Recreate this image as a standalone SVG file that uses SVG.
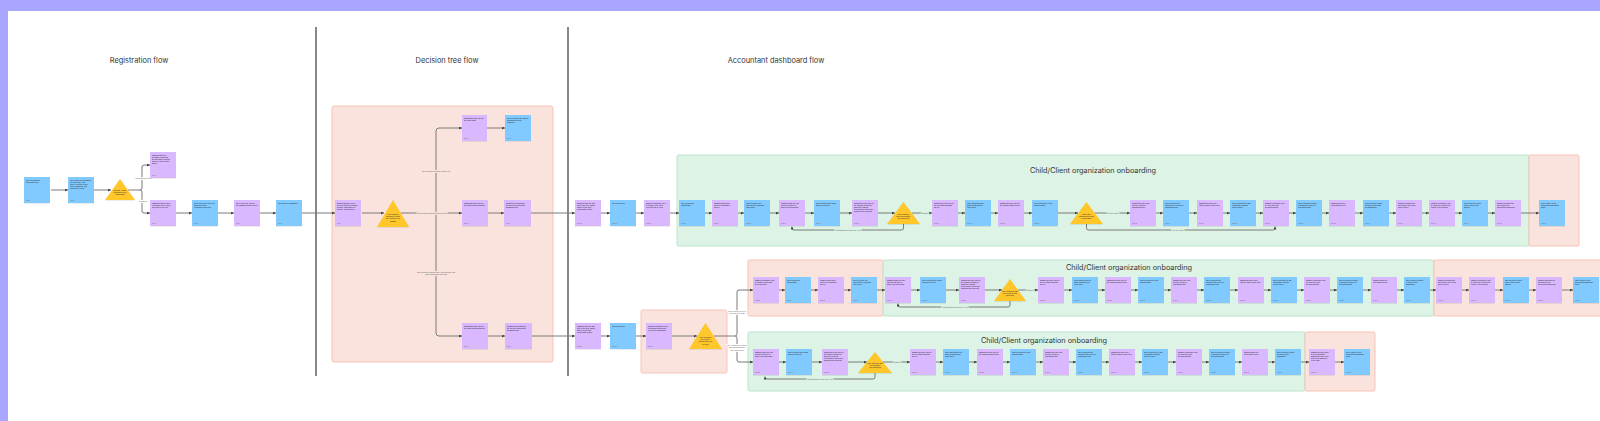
<svg xmlns="http://www.w3.org/2000/svg" width="1600" height="421" viewBox="0 0 1600 421">
<defs>
<style>
.bg{fill:#ffffff}
.frame{fill:#A9A6FF}
.title{font-family:Inter,"Liberation Sans",sans-serif;font-size:7.4px;fill:#333;text-anchor:middle}
.b{fill:#80CAFF}
.p{fill:#D9B8FF}
.t{fill:#FFC72C}
.s{font-family:"Liberation Sans",Arial,sans-serif;font-size:1.8px;fill:#2a2a2a}
.st{font-family:"Liberation Sans",Arial,sans-serif;font-size:1.8px;fill:#2a2a2a;text-anchor:middle}
.f{font-family:"Liberation Sans",Arial,sans-serif;font-size:1.5px;fill:#6d6d6d}
.pink{fill:#FBE3DD;stroke:#F6C3B5;stroke-width:1}
.green{fill:#DCF3E5;stroke:#BDE4CB;stroke-width:1}
.div{stroke:#555;stroke-width:1.4;fill:none}
.c{stroke:#7a7a7a;stroke-width:1;fill:none;marker-end:url(#ah)}
.lbl{font-family:"Liberation Sans",Arial,sans-serif;font-size:1.8px;fill:#555;text-anchor:middle;paint-order:stroke;stroke-width:1.6px}
.lw{stroke:#ffffff}.lp{stroke:#FBE3DD}.lg{stroke:#DCF3E5}
</style>
<marker id="ah" viewBox="0 0 6 6" refX="6" refY="3" markerWidth="3" markerHeight="3" markerUnits="userSpaceOnUse" orient="auto"><path d="M0,0 L6,3 L0,6 z" fill="#444"/></marker>
<filter id="sh" x="-10%" y="-10%" width="130%" height="130%"><feDropShadow dx="0" dy="0.5" stdDeviation="0.4" flood-color="#000" flood-opacity="0.15"/></filter>
</defs>
<rect class="bg" x="0" y="0" width="1600" height="421"/>
<rect class="frame" x="0" y="0" width="1600" height="11"/>
<rect class="frame" x="0" y="0" width="8" height="421"/>

<g id="titles">
<text class="title" x="139" y="63">Registration flow</text>
<text class="title" x="447" y="63">Decision tree flow</text>
<text class="title" x="776" y="63">Accountant dashboard flow</text>
</g>
<g id="dividers">
<path class="div" d="M316,27 V376"/>
<path class="div" d="M568,27 V376"/>
</g>

<g id="regions">
<rect id="decision-area" class="pink" x="332" y="106" width="221" height="256" rx="2"/>
<rect id="row1-green" class="green" x="677" y="155" width="852" height="91" rx="1.5"/>
<rect id="row1-pink" class="pink" x="1529" y="155" width="50" height="91" rx="1.5"/>
<rect id="row2-pink-a" class="pink" x="641" y="310" width="86" height="63" rx="1.5"/>
<rect id="row2u-pink" class="pink" x="748" y="260" width="135" height="56" rx="1.5"/>
<rect id="row2u-green" class="green" x="883" y="260" width="551" height="56" rx="1.5"/>
<rect id="row2u-pink-b" class="pink" x="1434" y="260" width="170" height="56" rx="1.5"/>
<rect id="row2l-green" class="green" x="748" y="332" width="557" height="59" rx="1.5"/>
<rect id="row2l-pink" class="pink" x="1305" y="332" width="70" height="59" rx="1.5"/>
<text class="title" x="1093" y="173" style="font-size:7.3px">Child/Client organization onboarding</text>
<text class="title" x="1129" y="270" style="font-size:7.3px">Child/Client organization onboarding</text>
<text class="title" x="1044" y="343" style="font-size:7.3px">Child/Client organization onboarding</text>
</g>

<g id="connectors">
<path class="c" d="M51,190 H68"/>
<path class="c" d="M94,190 H111"/>
<path class="c" d="M128,190 H140 Q142,190 142,188 V167 Q142,165 144,165 H150"/>
<path class="c" d="M140,190 Q142,190 142,192 V211 Q142,213 144,213 H150"/>
<path class="c" d="M176,213 H192"/>
<path class="c" d="M218,213 H234"/>
<path class="c" d="M260,213 H276"/>
<path class="c" d="M302,213 H335"/>
<path class="c" d="M362,213 H384"/>
<path class="c" d="M401,213 H462"/>
<path class="c" d="M436,213 V131 Q436,128 439,128 H462"/>
<path class="c" d="M436,213 V333 Q436,336 439,336 H462"/>
<path class="c" d="M487,128 H505"/>
<path class="c" d="M488,213 H504"/>
<path class="c" d="M488,336 H505"/>
<path class="c" d="M531,213 H575"/>
<path class="c" d="M532,336 H575"/>
<path class="c" d="M601,213 H610"/><path class="c" d="M636,213 H644"/><path class="c" d="M670,213 H679"/><path class="c" d="M705,213 H712"/><path class="c" d="M738,213 H744"/><path class="c" d="M770,213 H779"/><path class="c" d="M805,213 H814"/><path class="c" d="M840,213 H852"/><path class="c" d="M878,213 H895"/><path class="c" d="M912,213 H932"/><path class="c" d="M958,213 H965"/><path class="c" d="M991,213 H998"/><path class="c" d="M1024,213 H1032"/><path class="c" d="M1058,213 H1078"/><path class="c" d="M1095,213 H1130"/><path class="c" d="M1156,213 H1163"/><path class="c" d="M1189,213 H1197"/><path class="c" d="M1223,213 H1230"/><path class="c" d="M1256,213 H1263"/><path class="c" d="M1289,213 H1296"/><path class="c" d="M1322,213 H1329"/><path class="c" d="M1355,213 H1363"/><path class="c" d="M1389,213 H1396"/><path class="c" d="M1422,213 H1429"/><path class="c" d="M1455,213 H1462"/><path class="c" d="M1488,213 H1495"/><path class="c" d="M1521,213 H1539"/>
<path class="c" d="M903.5,224 V228 Q903.5,230 901.5,230 H794 Q792,230 792,228 V226.5"/>
<path class="c" d="M1086.5,224 V228 Q1086.5,230 1088.5,230 H1273 Q1275,230 1275,228 V226.5"/>
<path class="c" d="M601,336 H610"/><path class="c" d="M636,336 H646"/><path class="c" d="M672,336 H697"/>
<path class="c" d="M714,336 H735 Q737,336 737,334 V292 Q737,290 739,290 H753"/>
<path class="c" d="M735,336 Q737,336 737,338 V360 Q737,362 739,362 H753"/>
<path class="c" d="M779,290 H785"/><path class="c" d="M811,290 H818"/><path class="c" d="M844,290 H851"/><path class="c" d="M877,290 H885"/><path class="c" d="M911,290 H920"/><path class="c" d="M946,290 H959"/><path class="c" d="M985,290 H1002"/><path class="c" d="M1018,290 H1038"/><path class="c" d="M1064,290 H1072"/><path class="c" d="M1098,290 H1105"/><path class="c" d="M1131,290 H1138"/><path class="c" d="M1164,290 H1171"/><path class="c" d="M1197,290 H1204"/><path class="c" d="M1230,290 H1238"/><path class="c" d="M1264,290 H1271"/><path class="c" d="M1297,290 H1304"/><path class="c" d="M1330,290 H1337"/><path class="c" d="M1363,290 H1371"/><path class="c" d="M1397,290 H1404"/><path class="c" d="M1430,290 H1436"/><path class="c" d="M1462,290 H1469"/><path class="c" d="M1495,290 H1503"/><path class="c" d="M1529,290 H1536"/><path class="c" d="M1562,290 H1573"/>
<path class="c" d="M1010,301 V305 Q1010,307 1008,307 H900 Q898,307 898,305 V303.5"/>
<path class="c" d="M779,362 H786"/><path class="c" d="M812,362 H822"/><path class="c" d="M848,362 H867"/><path class="c" d="M883,362 H910"/><path class="c" d="M936,362 H943"/><path class="c" d="M969,362 H977"/><path class="c" d="M1003,362 H1010"/><path class="c" d="M1036,362 H1043"/><path class="c" d="M1069,362 H1076"/><path class="c" d="M1102,362 H1109"/><path class="c" d="M1135,362 H1142"/><path class="c" d="M1168,362 H1176"/><path class="c" d="M1202,362 H1209"/><path class="c" d="M1235,362 H1242"/><path class="c" d="M1268,362 H1275"/><path class="c" d="M1301,362 H1309"/><path class="c" d="M1335,362 H1344"/>
<path class="c" d="M875,373 V377 Q875,379 873,379 H767 Q765,379 765,377 V376.5"/>
<text class="lbl lw" x="143" y="178.5">Has accounting firm</text>
<text class="lbl lw" x="143" y="201.5">Registered</text>
<text class="lbl lp" x="436" y="171.5">User selects to manage a single org</text>
<text class="lbl lp" x="432" y="213.6">User selects to manage multiple orgs</text>
<text class="lbl lp" x="436" y="273"><tspan x="436">User selects to manage their own business AND</tspan><tspan x="436" dy="2.3">other businesses' accounts</tspan></text>
<text class="lbl lg" x="925" y="213.6">Continue</text>
<text class="lbl lg" x="848" y="230.6">Has accounts to bring over (yes)</text>
<text class="lbl lg" x="1113" y="213.6">No (they have)</text>
<text class="lbl lg" x="1178" y="230.6">Yes, they have</text>
<text class="lbl lw" x="737" y="312"><tspan x="737">User clicks on a client</tspan><tspan x="737" dy="2.3">from the list of orgs</tspan></text>
<text class="lbl lw" x="737" y="346"><tspan x="737">User decides to continue</tspan><tspan x="737" dy="2.3">with onboarding their</tspan><tspan x="737" dy="2.3">own organization</tspan></text>
<text class="lbl lg" x="1030" y="290.6">Continue</text>
<text class="lbl lg" x="955" y="307.6">Has accounts to bring over (yes)</text>
<text class="lbl lg" x="897" y="362.6">Continue</text>
<text class="lbl lg" x="820" y="379.6">Has accounts to bring over (yes)</text>
</g>

<g id="nodes" filter="url(#sh)">
<!-- Registration -->
<g id="reg1"><rect class="b" x="24" y="177" width="26" height="26"/><text class="s" y="180.5"><tspan x="26">User navigates to</tspan><tspan x="26" dy="2.2">getwebsite.com</tspan></text><text class="f" x="26" y="201">Step 1</text></g>
<g id="reg2"><rect class="b" x="68" y="177" width="26" height="26"/><text class="s" y="180.5"><tspan x="70">User enters all information</tspan><tspan x="70" dy="2.2">like first name, last</tspan><tspan x="70" dy="2.2">name, company name,</tspan><tspan x="70" dy="2.2">email, password, and</tspan><tspan x="70" dy="2.2">accepts the terms</tspan></text><text class="f" x="70" y="201">Step 2</text></g>
<g id="reg-dec"><polygon class="t" points="105,200 120,179 135,200"/><text class="st" y="191"><tspan x="120">Optional: Activity</tspan><tspan x="120" dy="2.2">to choose type of</tspan><tspan x="120" dy="2.2">organization</tspan></text></g>
<g id="reg3"><rect class="p" x="150" y="152" width="26" height="26"/><text class="s" y="155.5"><tspan x="152">Tabsoft displays a</tspan><tspan x="152" dy="2.2">message confirming</tspan><tspan x="152" dy="2.2">the user that a request</tspan><tspan x="152" dy="2.2">has been sent to their</tspan><tspan x="152" dy="2.2">admin</tspan></text><text class="f" x="152" y="176">Step 3</text></g>
<g id="reg4"><rect class="p" x="150" y="200" width="26" height="26"/><text class="s" y="203.5"><tspan x="152">Tabsoft sends an email</tspan><tspan x="152" dy="2.2">verification to the email</tspan><tspan x="152" dy="2.2">provided by the user</tspan></text><text class="f" x="152" y="224">Step 3</text></g>
<g id="reg5"><rect class="b" x="192" y="200" width="26" height="26"/><text class="s" y="203.5"><tspan x="194">User copies the code and</tspan><tspan x="194" dy="2.2">pastes it in their</tspan><tspan x="194" dy="2.2">verification code field</tspan></text><text class="f" x="194" y="224">Step 4</text></g>
<g id="reg6"><rect class="p" x="234" y="200" width="26" height="26"/><text class="s" y="203.5"><tspan x="236">User enters the code to</tspan><tspan x="236" dy="2.2">the password setup screen</tspan></text><text class="f" x="236" y="224">Step 5</text></g>
<g id="reg7"><rect class="b" x="276" y="200" width="26" height="26"/><text class="s" y="203.5"><tspan x="278">Step finishes registration</tspan></text><text class="f" x="278" y="224">Step 6</text></g>

<!-- Decision tree -->
<g id="dt1"><rect class="p" x="335" y="200" width="26" height="26"/><text class="s" y="203.5"><tspan x="337">Tabsoft asks the user if</tspan><tspan x="337" dy="2.2">the user wants to manage</tspan><tspan x="337" dy="2.2">a single organization or</tspan><tspan x="337" dy="2.2">multiple organizations</tspan></text><text class="f" x="337" y="224">Step 7</text></g>
<g id="dt-dec"><polygon class="t" points="377,227 393,200 409,227"/><text class="st" y="215"><tspan x="393">User makes a</tspan><tspan x="393" dy="2.2">decision on what</tspan><tspan x="393" dy="2.2">they want to do in</tspan><tspan x="393" dy="2.2">Tabsoft</tspan></text></g>
<g id="dt2"><rect class="p" x="462" y="115" width="25" height="26"/><text class="s" y="118.5"><tspan x="464">Tabsoft takes the user to</tspan><tspan x="464" dy="2.2">the Plans page</tspan></text><text class="f" x="464" y="139">Step 8</text></g>
<g id="dt3"><rect class="b" x="505" y="115" width="26" height="26"/><text class="s" y="118.5"><tspan x="507">User completes the signup</tspan><tspan x="507" dy="2.2">onboarding flow to</tspan><tspan x="507" dy="2.2">subscribe</tspan></text><text class="f" x="507" y="139">Step 9</text></g>
<g id="dt4"><rect class="p" x="462" y="200" width="26" height="26"/><text class="s" y="203.5"><tspan x="464">Tabsoft takes the user to</tspan><tspan x="464" dy="2.2">the accountant dashboard</tspan></text><text class="f" x="464" y="224">Step 8</text></g>
<g id="dt5"><rect class="p" x="504" y="200" width="27" height="26"/><text class="s" y="203.5"><tspan x="506">Tabsoft begins showing</tspan><tspan x="506" dy="2.2">the user the accountant</tspan><tspan x="506" dy="2.2">dashboard tour</tspan></text><text class="f" x="506" y="224">Step 9</text></g>
<g id="dt6"><rect class="p" x="462" y="323" width="26" height="26"/><text class="s" y="326.5"><tspan x="464">Tabsoft takes the user to</tspan><tspan x="464" dy="2.2">the accountant dashboard</tspan></text><text class="f" x="464" y="347">Step 8</text></g>
<g id="dt7"><rect class="p" x="505" y="323" width="27" height="26"/><text class="s" y="326.5"><tspan x="507">Tabsoft begins showing</tspan><tspan x="507" dy="2.2">the user the accountant</tspan><tspan x="507" dy="2.2">dashboard tour</tspan></text><text class="f" x="507" y="347">Step 9</text></g>

<!-- Accountant row 1 -->
<g id="a1"><rect class="p" x="575" y="200" width="26" height="26"/><text class="s" y="203.5"><tspan x="577">Tabsoft shows the last</tspan><tspan x="577" dy="2.2">step of the tour, added</tspan><tspan x="577" dy="2.2">action on the New</tspan><tspan x="577" dy="2.2">organization button</tspan></text><text class="f" x="577" y="224">Step 10</text></g>
<g id="a2"><rect class="b" x="610" y="200" width="26" height="26"/><text class="s" y="203.5"><tspan x="612">User clicks New</tspan></text><text class="f" x="612" y="224">Step 11</text></g>
<g id="a3"><rect class="p" x="644" y="200" width="26" height="26"/><text class="s" y="203.5"><tspan x="646">Tabsoft prompts the user</tspan><tspan x="646" dy="2.2">to choose if the client</tspan><tspan x="646" dy="2.2">is a child org or client</tspan></text><text class="f" x="646" y="224">Step 12</text></g>
<g id="a4"><rect class="b" x="679" y="200" width="26" height="26"/><text class="s" y="203.5"><tspan x="681">User clicks New</tspan><tspan x="681" dy="2.2">organization</tspan></text><text class="f" x="681" y="224">Step 13</text></g>
<g id="a5"><rect class="p" x="712" y="200" width="26" height="26"/><text class="s" y="203.5"><tspan x="714">Tabsoft displays the</tspan><tspan x="714" dy="2.2">child org registration</tspan><tspan x="714" dy="2.2">screen</tspan></text><text class="f" x="714" y="224">Step 14</text></g>
<g id="a6"><rect class="b" x="744" y="200" width="26" height="26"/><text class="s" y="203.5"><tspan x="746">User types the org</tspan><tspan x="746" dy="2.2">info into the inputs and</tspan><tspan x="746" dy="2.2">clicks Next</tspan></text><text class="f" x="746" y="224">Step 15</text></g>
<g id="a7"><rect class="p" x="779" y="200" width="26" height="26"/><text class="s" y="203.5"><tspan x="781">Tabsoft brings the user</tspan><tspan x="781" dy="2.2">into the first step of</tspan><tspan x="781" dy="2.2">single org onboarding</tspan></text><text class="f" x="781" y="224">Step 16</text></g>
<g id="a8"><rect class="b" x="814" y="200" width="26" height="26"/><text class="s" y="203.5"><tspan x="816">User connects their bank</tspan><tspan x="816" dy="2.2">account via Plaid</tspan></text><text class="f" x="816" y="224">Step 17</text></g>
<g id="a9"><rect class="p" x="852" y="200" width="26" height="26"/><text class="s" y="203.5"><tspan x="854">Tabsoft takes the user to</tspan><tspan x="854" dy="2.2">the Transfer section to</tspan><tspan x="854" dy="2.2">show the possible</tspan><tspan x="854" dy="2.2">reconciliation items and</tspan><tspan x="854" dy="2.2">matches each account</tspan></text><text class="f" x="854" y="224">Step 18</text></g>
<g id="a-dec1"><polygon class="t" points="887,224 903.5,202 920,224"/><text class="st" y="214.5"><tspan x="903.5">User continues</tspan><tspan x="903.5" dy="2.2">with reconciliation</tspan><tspan x="903.5" dy="2.2">and completes</tspan></text></g>
<g id="a10"><rect class="p" x="932" y="200" width="26" height="26"/><text class="s" y="203.5"><tspan x="934">Tabsoft takes the user to</tspan><tspan x="934" dy="2.2">the tax audit questions</tspan><tspan x="934" dy="2.2">screen</tspan></text><text class="f" x="934" y="224">Step 19</text></g>
<g id="a11"><rect class="b" x="965" y="200" width="26" height="26"/><text class="s" y="203.5"><tspan x="967">User answers the tax</tspan><tspan x="967" dy="2.2">audit questions and</tspan><tspan x="967" dy="2.2">clicks Next</tspan></text><text class="f" x="967" y="224">Step 20</text></g>
<g id="a12"><rect class="p" x="998" y="200" width="26" height="26"/><text class="s" y="203.5"><tspan x="1000">Tabsoft takes the user to</tspan><tspan x="1000" dy="2.2">the financial audit screen</tspan></text><text class="f" x="1000" y="224">Step 21</text></g>
<g id="a13"><rect class="b" x="1032" y="200" width="26" height="26"/><text class="s" y="203.5"><tspan x="1034">User clicks Next on the</tspan><tspan x="1034" dy="2.2">financial audit</tspan></text><text class="f" x="1034" y="224">Step 22</text></g>
<g id="a-dec2"><polygon class="t" points="1070,224 1086.5,202 1103,224"/><text class="st" y="214.5"><tspan x="1086.5">Client user</tspan><tspan x="1086.5" dy="2.2">onboarded to child</tspan><tspan x="1086.5" dy="2.2">organization</tspan></text></g>
<g id="a14"><rect class="p" x="1130" y="200" width="26" height="26"/><text class="s" y="203.5"><tspan x="1132">Tabsoft takes the user</tspan><tspan x="1132" dy="2.2">into the employee</tspan><tspan x="1132" dy="2.2">onboarding step</tspan></text><text class="f" x="1132" y="224">Step 23</text></g>
<g id="a15"><rect class="b" x="1163" y="200" width="26" height="26"/><text class="s" y="203.5"><tspan x="1165">User clicks Next to</tspan><tspan x="1165" dy="2.2">complete the employee</tspan><tspan x="1165" dy="2.2">onboarding step</tspan></text><text class="f" x="1165" y="224">Step 24</text></g>
<g id="a16"><rect class="p" x="1197" y="200" width="26" height="26"/><text class="s" y="203.5"><tspan x="1199">Tabsoft takes the user</tspan><tspan x="1199" dy="2.2">into the Owner family step</tspan></text><text class="f" x="1199" y="224">Step 25</text></g>
<g id="a17"><rect class="b" x="1230" y="200" width="26" height="26"/><text class="s" y="203.5"><tspan x="1232">User clicks Next to add</tspan><tspan x="1232" dy="2.2">relationship with the</tspan><tspan x="1232" dy="2.2">client's family</tspan></text><text class="f" x="1232" y="224">Step 26</text></g>
<g id="a18"><rect class="p" x="1263" y="200" width="26" height="26"/><text class="s" y="203.5"><tspan x="1265">Tabsoft prompts the user</tspan><tspan x="1265" dy="2.2">to verify their first</tspan><tspan x="1265" dy="2.2">bill subscriptions</tspan></text><text class="f" x="1265" y="224">Step 27</text></g>
<g id="a19"><rect class="b" x="1296" y="200" width="26" height="26"/><text class="s" y="203.5"><tspan x="1298">User confirms bill dates</tspan><tspan x="1298" dy="2.2">in Document Inbox for</tspan><tspan x="1298" dy="2.2">all subscriptions</tspan></text><text class="f" x="1298" y="224">Step 28</text></g>
<g id="a20"><rect class="p" x="1329" y="200" width="26" height="26"/><text class="s" y="203.5"><tspan x="1331">Tabsoft displays a</tspan><tspan x="1331" dy="2.2">celebration screen</tspan></text><text class="f" x="1331" y="224">Step 29</text></g>
<g id="a21"><rect class="b" x="1363" y="200" width="26" height="26"/><text class="s" y="203.5"><tspan x="1365">User clicks the button</tspan><tspan x="1365" dy="2.2">to return to the child</tspan><tspan x="1365" dy="2.2">org dashboard</tspan></text><text class="f" x="1365" y="224">Step 30</text></g>
<g id="a22"><rect class="p" x="1396" y="200" width="26" height="26"/><text class="s" y="203.5"><tspan x="1398">Tabsoft navigates the</tspan><tspan x="1398" dy="2.2">user back to the client</tspan><tspan x="1398" dy="2.2">family screen</tspan></text><text class="f" x="1398" y="224">Step 31</text></g>
<g id="a23"><rect class="p" x="1429" y="200" width="26" height="26"/><text class="s" y="203.5"><tspan x="1431">Tabsoft prompts the user</tspan><tspan x="1431" dy="2.2">to check the Client invite</tspan><tspan x="1431" dy="2.2">option on the sidebar</tspan></text><text class="f" x="1431" y="224">Step 32</text></g>
<g id="a24"><rect class="b" x="1462" y="200" width="26" height="26"/><text class="s" y="203.5"><tspan x="1464">User clicks the Client</tspan><tspan x="1464" dy="2.2">invite option on the</tspan><tspan x="1464" dy="2.2">sidebar</tspan></text><text class="f" x="1464" y="224">Step 33</text></g>
<g id="a25"><rect class="p" x="1495" y="200" width="26" height="26"/><text class="s" y="203.5"><tspan x="1497">Tabsoft navigates the</tspan><tspan x="1497" dy="2.2">user back to the</tspan><tspan x="1497" dy="2.2">accountant dashboard</tspan></text><text class="f" x="1497" y="224">Step 34</text></g>
<g id="a26"><rect class="b" x="1539" y="200" width="26" height="26"/><text class="s" y="203.5"><tspan x="1541">User is taken to the</tspan><tspan x="1541" dy="2.2">accountant dashboard</tspan><tspan x="1541" dy="2.2">home</tspan></text><text class="f" x="1541" y="224">Step 35</text></g>

<!-- Accountant row 2 start -->
<g id="m1"><rect class="p" x="575" y="323" width="26" height="26"/><text class="s" y="326.5"><tspan x="577">Tabsoft shows the last</tspan><tspan x="577" dy="2.2">step of the tour, added</tspan><tspan x="577" dy="2.2">action on the New</tspan><tspan x="577" dy="2.2">organization button</tspan></text><text class="f" x="577" y="347">Step 10</text></g>
<g id="m2"><rect class="b" x="610" y="323" width="26" height="26"/><text class="s" y="326.5"><tspan x="612">User clicks New</tspan></text><text class="f" x="612" y="347">Step 11</text></g>
<g id="m3"><rect class="p" x="646" y="323" width="26" height="26"/><text class="s" y="326.5"><tspan x="648">Tabsoft prompts the user</tspan><tspan x="648" dy="2.2">to onboard themselves</tspan><tspan x="648" dy="2.2">or a client organization</tspan></text><text class="f" x="648" y="347">Step 12</text></g>
<g id="m-dec"><polygon class="t" points="689,349 705.5,323 722,349"/><text class="st" y="338"><tspan x="705.5">User decides if</tspan><tspan x="705.5" dy="2.2">they want to</tspan><tspan x="705.5" dy="2.2">onboard their org</tspan><tspan x="705.5" dy="2.2">or client</tspan></text></g>

<!-- Row 2 upper -->
<g id="u1"><rect class="p" x="753" y="277" width="26" height="26"/><text class="s" y="280.5"><tspan x="755">Tabsoft prompts the user</tspan><tspan x="755" dy="2.2">to choose onboarding</tspan><tspan x="755" dy="2.2">their first client</tspan></text><text class="f" x="755" y="301">Step 13</text></g>
<g id="u2"><rect class="b" x="785" y="277" width="26" height="26"/><text class="s" y="280.5"><tspan x="787">User clicks New</tspan><tspan x="787" dy="2.2">organization</tspan></text><text class="f" x="787" y="301">Step 14</text></g>
<g id="u3"><rect class="p" x="818" y="277" width="26" height="26"/><text class="s" y="280.5"><tspan x="820">Tabsoft displays the</tspan><tspan x="820" dy="2.2">client org registration</tspan><tspan x="820" dy="2.2">screen</tspan></text><text class="f" x="820" y="301">Step 15</text></g>
<g id="u4"><rect class="b" x="851" y="277" width="26" height="26"/><text class="s" y="280.5"><tspan x="853">User types the org</tspan><tspan x="853" dy="2.2">info into the inputs and</tspan><tspan x="853" dy="2.2">clicks Next</tspan></text><text class="f" x="853" y="301">Step 16</text></g>
<g id="u5"><rect class="p" x="885" y="277" width="26" height="26"/><text class="s" y="280.5"><tspan x="887">Tabsoft brings the user</tspan><tspan x="887" dy="2.2">into the first step of</tspan><tspan x="887" dy="2.2">single org onboarding</tspan></text><text class="f" x="887" y="301">Step 17</text></g>
<g id="u6"><rect class="b" x="920" y="277" width="26" height="26"/><text class="s" y="280.5"><tspan x="922">User connects their bank</tspan><tspan x="922" dy="2.2">account via Plaid</tspan></text><text class="f" x="922" y="301">Step 18</text></g>
<g id="u7"><rect class="p" x="959" y="277" width="26" height="26"/><text class="s" y="280.5"><tspan x="961">Tabsoft takes the user to</tspan><tspan x="961" dy="2.2">the Transfer section to</tspan><tspan x="961" dy="2.2">show the possible</tspan><tspan x="961" dy="2.2">reconciliation items and</tspan><tspan x="961" dy="2.2">matches each account</tspan></text><text class="f" x="961" y="301">Step 19</text></g>
<g id="u-dec"><polygon class="t" points="994,301 1010,279 1026,301"/><text class="st" y="291.5"><tspan x="1010">User continues with</tspan><tspan x="1010" dy="2.2">reconciliation and</tspan><tspan x="1010" dy="2.2">completes</tspan></text></g>
<g id="u8"><rect class="p" x="1038" y="277" width="26" height="26"/><text class="s" y="280.5"><tspan x="1040">Tabsoft takes the user to</tspan><tspan x="1040" dy="2.2">the tax audit questions</tspan><tspan x="1040" dy="2.2">screen</tspan></text><text class="f" x="1040" y="301">Step 20</text></g>
<g id="u9"><rect class="b" x="1072" y="277" width="26" height="26"/><text class="s" y="280.5"><tspan x="1074">User answers the tax</tspan><tspan x="1074" dy="2.2">audit questions and</tspan><tspan x="1074" dy="2.2">clicks Next</tspan></text><text class="f" x="1074" y="301">Step 21</text></g>
<g id="u10"><rect class="p" x="1105" y="277" width="26" height="26"/><text class="s" y="280.5"><tspan x="1107">Tabsoft takes the user to</tspan><tspan x="1107" dy="2.2">the financial audit screen</tspan></text><text class="f" x="1107" y="301">Step 22</text></g>
<g id="u11"><rect class="b" x="1138" y="277" width="26" height="26"/><text class="s" y="280.5"><tspan x="1140">User clicks Next on the</tspan><tspan x="1140" dy="2.2">financial audit</tspan></text><text class="f" x="1140" y="301">Step 23</text></g>
<g id="u12"><rect class="p" x="1171" y="277" width="26" height="26"/><text class="s" y="280.5"><tspan x="1173">Tabsoft takes the user</tspan><tspan x="1173" dy="2.2">into the employee</tspan><tspan x="1173" dy="2.2">onboarding step</tspan></text><text class="f" x="1173" y="301">Step 24</text></g>
<g id="u13"><rect class="b" x="1204" y="277" width="26" height="26"/><text class="s" y="280.5"><tspan x="1206">User clicks Next to</tspan><tspan x="1206" dy="2.2">complete the employee</tspan><tspan x="1206" dy="2.2">onboarding step</tspan></text><text class="f" x="1206" y="301">Step 25</text></g>
<g id="u14"><rect class="p" x="1238" y="277" width="26" height="26"/><text class="s" y="280.5"><tspan x="1240">Tabsoft takes the user</tspan><tspan x="1240" dy="2.2">into the Owner family step</tspan></text><text class="f" x="1240" y="301">Step 26</text></g>
<g id="u15"><rect class="b" x="1271" y="277" width="26" height="26"/><text class="s" y="280.5"><tspan x="1273">User clicks Next to add</tspan><tspan x="1273" dy="2.2">relationship with the</tspan><tspan x="1273" dy="2.2">client's family</tspan></text><text class="f" x="1273" y="301">Step 27</text></g>
<g id="u16"><rect class="p" x="1304" y="277" width="26" height="26"/><text class="s" y="280.5"><tspan x="1306">Tabsoft prompts the user</tspan><tspan x="1306" dy="2.2">to verify their first</tspan><tspan x="1306" dy="2.2">bill subscriptions</tspan></text><text class="f" x="1306" y="301">Step 28</text></g>
<g id="u17"><rect class="b" x="1337" y="277" width="26" height="26"/><text class="s" y="280.5"><tspan x="1339">User confirms bill dates</tspan><tspan x="1339" dy="2.2">in Document Inbox for</tspan><tspan x="1339" dy="2.2">all subscriptions</tspan></text><text class="f" x="1339" y="301">Step 29</text></g>
<g id="u18"><rect class="p" x="1371" y="277" width="26" height="26"/><text class="s" y="280.5"><tspan x="1373">Tabsoft displays a</tspan><tspan x="1373" dy="2.2">celebration screen</tspan></text><text class="f" x="1373" y="301">Step 30</text></g>
<g id="u19"><rect class="b" x="1404" y="277" width="26" height="26"/><text class="s" y="280.5"><tspan x="1406">User clicks the button</tspan><tspan x="1406" dy="2.2">to return to the</tspan><tspan x="1406" dy="2.2">dashboard</tspan></text><text class="f" x="1406" y="301">Step 31</text></g>
<g id="u20"><rect class="p" x="1436" y="277" width="26" height="26"/><text class="s" y="280.5"><tspan x="1438">Tabsoft navigates the</tspan><tspan x="1438" dy="2.2">user back to the Client</tspan><tspan x="1438" dy="2.2">family screen</tspan></text><text class="f" x="1438" y="301">Step 32</text></g>
<g id="u21"><rect class="p" x="1469" y="277" width="26" height="26"/><text class="s" y="280.5"><tspan x="1471">Tabsoft prompts the user</tspan><tspan x="1471" dy="2.2">to check the Client invite</tspan><tspan x="1471" dy="2.2">option on the sidebar</tspan></text><text class="f" x="1471" y="301">Step 33</text></g>
<g id="u22"><rect class="b" x="1503" y="277" width="26" height="26"/><text class="s" y="280.5"><tspan x="1505">User clicks the Client</tspan><tspan x="1505" dy="2.2">invite option on the</tspan><tspan x="1505" dy="2.2">sidebar</tspan></text><text class="f" x="1505" y="301">Step 34</text></g>
<g id="u23"><rect class="p" x="1536" y="277" width="26" height="26"/><text class="s" y="280.5"><tspan x="1538">Tabsoft navigates the</tspan><tspan x="1538" dy="2.2">user back to the</tspan><tspan x="1538" dy="2.2">accountant dashboard</tspan></text><text class="f" x="1538" y="301">Step 35</text></g>
<g id="u24"><rect class="b" x="1573" y="277" width="26" height="26"/><text class="s" y="280.5"><tspan x="1575">User is taken to the</tspan><tspan x="1575" dy="2.2">accountant dashboard</tspan><tspan x="1575" dy="2.2">home</tspan></text><text class="f" x="1575" y="301">Step 36</text></g>

<!-- Row 2 lower -->
<g id="l1"><rect class="p" x="753" y="349" width="26" height="26"/><text class="s" y="352.5"><tspan x="755">Tabsoft brings the user</tspan><tspan x="755" dy="2.2">into the first step of</tspan><tspan x="755" dy="2.2">single org onboarding</tspan></text><text class="f" x="755" y="373">Step 13</text></g>
<g id="l2"><rect class="b" x="786" y="349" width="26" height="26"/><text class="s" y="352.5"><tspan x="788">User connects their bank</tspan><tspan x="788" dy="2.2">account via Plaid</tspan></text><text class="f" x="788" y="373">Step 14</text></g>
<g id="l3"><rect class="p" x="822" y="349" width="26" height="26"/><text class="s" y="352.5"><tspan x="824">Tabsoft takes the user to</tspan><tspan x="824" dy="2.2">the Transfer section to</tspan><tspan x="824" dy="2.2">show the possible</tspan><tspan x="824" dy="2.2">reconciliation items and</tspan><tspan x="824" dy="2.2">matches each account</tspan></text><text class="f" x="824" y="373">Step 15</text></g>
<g id="l-dec"><polygon class="t" points="858,373 875,352 892,373"/><text class="st" y="363.5"><tspan x="875">User continues with</tspan><tspan x="875" dy="2.2">reconciliation</tspan><tspan x="875" dy="2.2">and completes</tspan></text></g>
<g id="l4"><rect class="p" x="910" y="349" width="26" height="26"/><text class="s" y="352.5"><tspan x="912">Tabsoft takes the user to</tspan><tspan x="912" dy="2.2">the tax audit questions</tspan><tspan x="912" dy="2.2">screen</tspan></text><text class="f" x="912" y="373">Step 16</text></g>
<g id="l5"><rect class="b" x="943" y="349" width="26" height="26"/><text class="s" y="352.5"><tspan x="945">User answers the tax</tspan><tspan x="945" dy="2.2">audit questions and</tspan><tspan x="945" dy="2.2">clicks Next</tspan></text><text class="f" x="945" y="373">Step 17</text></g>
<g id="l6"><rect class="p" x="977" y="349" width="26" height="26"/><text class="s" y="352.5"><tspan x="979">Tabsoft takes the user to</tspan><tspan x="979" dy="2.2">the financial audit screen</tspan></text><text class="f" x="979" y="373">Step 18</text></g>
<g id="l7"><rect class="b" x="1010" y="349" width="26" height="26"/><text class="s" y="352.5"><tspan x="1012">User clicks Next on the</tspan><tspan x="1012" dy="2.2">financial audit</tspan></text><text class="f" x="1012" y="373">Step 19</text></g>
<g id="l8"><rect class="p" x="1043" y="349" width="26" height="26"/><text class="s" y="352.5"><tspan x="1045">Tabsoft takes the user</tspan><tspan x="1045" dy="2.2">into the employee</tspan><tspan x="1045" dy="2.2">onboarding step</tspan></text><text class="f" x="1045" y="373">Step 20</text></g>
<g id="l9"><rect class="b" x="1076" y="349" width="26" height="26"/><text class="s" y="352.5"><tspan x="1078">User clicks Next to</tspan><tspan x="1078" dy="2.2">complete the employee</tspan><tspan x="1078" dy="2.2">onboarding step</tspan></text><text class="f" x="1078" y="373">Step 21</text></g>
<g id="l10"><rect class="p" x="1109" y="349" width="26" height="26"/><text class="s" y="352.5"><tspan x="1111">Tabsoft takes the user</tspan><tspan x="1111" dy="2.2">into the Owner family step</tspan></text><text class="f" x="1111" y="373">Step 22</text></g>
<g id="l11"><rect class="b" x="1142" y="349" width="26" height="26"/><text class="s" y="352.5"><tspan x="1144">User clicks Next to add</tspan><tspan x="1144" dy="2.2">relationship with the</tspan><tspan x="1144" dy="2.2">owner's family</tspan></text><text class="f" x="1144" y="373">Step 23</text></g>
<g id="l12"><rect class="p" x="1176" y="349" width="26" height="26"/><text class="s" y="352.5"><tspan x="1178">Tabsoft prompts the user</tspan><tspan x="1178" dy="2.2">to verify their first</tspan><tspan x="1178" dy="2.2">bill subscriptions</tspan></text><text class="f" x="1178" y="373">Step 24</text></g>
<g id="l13"><rect class="b" x="1209" y="349" width="26" height="26"/><text class="s" y="352.5"><tspan x="1211">User confirms bill dates</tspan><tspan x="1211" dy="2.2">in Document Inbox for</tspan><tspan x="1211" dy="2.2">all subscriptions</tspan></text><text class="f" x="1211" y="373">Step 25</text></g>
<g id="l14"><rect class="p" x="1242" y="349" width="26" height="26"/><text class="s" y="352.5"><tspan x="1244">Tabsoft displays a</tspan><tspan x="1244" dy="2.2">celebration screen</tspan></text><text class="f" x="1244" y="373">Step 26</text></g>
<g id="l15"><rect class="b" x="1275" y="349" width="26" height="26"/><text class="s" y="352.5"><tspan x="1277">User clicks the button</tspan><tspan x="1277" dy="2.2">to return to the</tspan><tspan x="1277" dy="2.2">dashboard</tspan></text><text class="f" x="1277" y="373">Step 27</text></g>
<g id="l16"><rect class="p" x="1309" y="349" width="26" height="26"/><text class="s" y="352.5"><tspan x="1311">Tabsoft takes the user</tspan><tspan x="1311" dy="2.2">to the accountant</tspan><tspan x="1311" dy="2.2">dashboard, where the</tspan><tspan x="1311" dy="2.2">new org is displayed</tspan><tspan x="1311" dy="2.2">in the table</tspan></text><text class="f" x="1311" y="373">Step 28</text></g>
<g id="l17"><rect class="b" x="1344" y="349" width="26" height="26"/><text class="s" y="352.5"><tspan x="1346">User is taken to the</tspan><tspan x="1346" dy="2.2">accountant dashboard</tspan><tspan x="1346" dy="2.2">home</tspan></text><text class="f" x="1346" y="373">Step 29</text></g>
</g>
</svg>
